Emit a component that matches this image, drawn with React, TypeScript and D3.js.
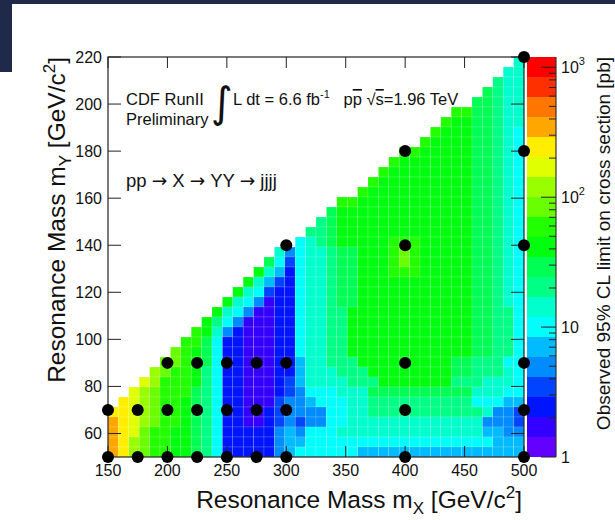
import React from "react";
import * as d3 from "d3";

// ---- axes / binning ----
const MX_RANGE: [number, number] = [150, 500];
const MY_RANGE: [number, number] = [50, 220];
const N_X = 40;
const N_Y = 40;
const Z_RANGE: [number, number] = [1, 1200];
const N_CONTOURS = 20;

const X_TICKS = [150, 200, 250, 300, 350, 400, 450, 500];
const Y_TICKS = [60, 80, 100, 120, 140, 160, 180, 200, 220];
const Z_MAJOR = [1, 10, 100, 1000];
const Z_LABELS: [string, string][] = [["1", ""], ["10", ""], ["10", "2"], ["10", "3"]];

// ---- simulated mass points ----
const POINT_MX = [150, 150, 175, 175, 200, 200, 200, 225, 225, 225, 250, 250, 250, 275, 275, 275,
  300, 300, 300, 300, 400, 400, 400, 400, 400, 500, 500, 500, 500, 500, 500];
const POINT_MY = [50, 70, 50, 70, 50, 70, 90, 50, 70, 90, 50, 70, 90, 50, 70, 90,
  50, 70, 90, 140, 50, 70, 90, 140, 180, 50, 70, 90, 140, 180, 220];

// ---- contour level (0..19, base-36 digit) per cell, rows from top (mY bin 39) to bottom (bin 0)
// each entry: [first filled mX bin, levels]
const LEVEL_ROWS: [number, string][] = [
  [39, "7"],
  [38, "77"],
  [37, "877"],
  [36, "9877"],
  [35, "99877"],
  [33, "bb99877"],
  [32, "baa99877"],
  [31, "baaa99876"],
  [30, "baaaa99876"],
  [28, "bbaaaaa99876"],
  [27, "baaaaaaa99876"],
  [26, "baaaaaaaa99876"],
  [25, "baaaaaaaaa99876"],
  [24, "baaaaaaaaaa99876"],
  [22, "bbaaaaaaaaaaa99876"],
  [21, "9aaaaaaaaaaaaa99876"],
  [20, "89aaaaaaaaaaaaa99876"],
  [19, "889aaaaaaaaaaaaa99876"],
  [18, "6789aaaaabbbaaaaa99876"],
  [16, "74677899aaabcbaaaaa99876"],
  [15, "963677899aaabcbaaaaa99876"],
  [14, "a752677899aaabbbaaaaa99876"],
  [13, "a7532677899aaaaaaaaaaa99876"],
  [12, "a76322677899aaaaaaaaaaa99876"],
  [11, "a764122677899aaaaaaaaaaa99876"],
  [10, "a764112267788aaaaaaaaaaaa99886"],
  [9, "a8641112267788aaaaaaaaaaaa99886"],
  [8, "ba7421112267788aaaaaaaaaaaa99886"],
  [7, "bb96221112267788aaaaaaaaaaaa99886"],
  [6, "cba96221112267788aaaaaaaaaaaa99886"],
  [5, "ccba962211122577888aaaaaaaaa9988866"],
  [4, "dcbba8622111225777888aaaaaaaa9988876"],
  [3, "edbbba86221112357777888aaaaaaa8887776"],
  [2, "edcbbb98622111234666777999999999977766"],
  [1, "fedcbba98622111344566677888888888866655"],
  [0, "ffedcbba98622112344446677888888888887443"],
  [0, "gfedcbba98622112343446677777777777774443"],
  [0, "gfecbbaa98622222454666777777777777775544"],
  [0, "gfdcbbaa98622222455666666666666666666555"],
  [0, "gfdcbbaa98622222456666665555555555555555"],
];

// ROOT "pretty" palette sampled at 20 contours
const PALETTE = [
  "rgb(99,0,255)", "rgb(51,0,255)", "rgb(0,20,255)", "rgb(0,68,255)", "rgb(0,139,255)",
  "rgb(0,187,255)", "rgb(0,255,252)", "rgb(0,255,204)", "rgb(0,255,133)", "rgb(0,255,85)",
  "rgb(0,255,14)", "rgb(34,255,0)", "rgb(105,255,0)", "rgb(153,255,0)", "rgb(224,255,0)",
  "rgb(255,238,0)", "rgb(255,167,0)", "rgb(255,119,0)", "rgb(255,48,0)", "rgb(255,0,0)",
];

const FONT = "'Liberation Sans', Arial, Helvetica, sans-serif";
const ARROW_FONT = "'DejaVu Sans', sans-serif";
const NAVY = "#1f2a4b";

export default function App() {
  const W = 615, H = 520;
  const L = 108, R = 524, T = 57, B = 457;
  const xs = d3.scaleLinear().domain(MX_RANGE).range([L, R]);
  const ys = d3.scaleLinear().domain(MY_RANGE).range([B, T]);
  const zs = d3.scaleLog().domain(Z_RANGE).range([B, T]);
  const color = d3.scaleQuantize<string>().domain([0, N_CONTOURS]).range(PALETTE);
  const dx = (MX_RANGE[1] - MX_RANGE[0]) / N_X;
  const dy = (MY_RANGE[1] - MY_RANGE[0]) / N_Y;

  const cells: JSX.Element[] = [];
  LEVEL_ROWS.forEach(([start, vals], i) => {
    const r = N_Y - 1 - i;
    for (let j = 0; j < vals.length; j++) {
      const k = start + j;
      if (k >= N_X) break;
      const ch = vals[j];
      if (ch === "." || ch === " ") continue;
      const lev = parseInt(ch, 36);
      const x0 = xs(MX_RANGE[0] + k * dx), x1 = xs(MX_RANGE[0] + (k + 1) * dx);
      const y0 = ys(MY_RANGE[0] + (r + 1) * dy), y1 = ys(MY_RANGE[0] + r * dy);
      cells.push(
        <rect key={`c${r}-${k}`} x={x0} y={y0} width={x1 - x0} height={y1 - y0}
          fill={color(lev + 0.5)} stroke="rgba(255,255,255,0.3)" strokeWidth={0.5} />
      );
    }
  });

  const logMax = Math.log10(Z_RANGE[1]);
  const bands = d3.range(N_CONTOURS).map((i) => {
    const z0 = Math.pow(10, (i * logMax) / N_CONTOURS);
    const z1 = Math.pow(10, ((i + 1) * logMax) / N_CONTOURS);
    return { i, y0: zs(z1), y1: zs(z0) };
  });
  const zMinor: number[] = [];
  [1, 10, 100, 1000].forEach((d) => {
    for (let m = 2; m <= 9; m++) if (m * d <= Z_RANGE[1]) zMinor.push(m * d);
  });

  const CBL = 527, CBR = 556;
  const tickColor = "#222";

  return (
    <svg width={W} height={H} style={{ position: "absolute", left: 0, top: 0, background: "#fff" }}
      fontFamily={FONT}>
      <rect x={0} y={0} width={W} height={H} fill="#fff" />
      <rect x={0} y={0} width={W} height={4} fill={NAVY} />
      <rect x={0} y={0} width={12} height={72} fill={NAVY} />

      {/* heat map */}
      <g>{cells}</g>

      {/* frame */}
      <rect x={L} y={T} width={R - L} height={B - T} fill="none" stroke="#222" strokeWidth={1.2} />

      {/* x ticks bottom + top */}
      {X_TICKS.map((v) => (
        <g key={`xt${v}`}>
          <line x1={xs(v)} x2={xs(v)} y1={B} y2={B - 11} stroke={tickColor} strokeWidth={1} />
          <line x1={xs(v)} x2={xs(v)} y1={T} y2={T + 11} stroke={tickColor} strokeWidth={1} />
          <text x={xs(v)} y={476} fontSize={16} textAnchor="middle" fill="#111">{v}</text>
        </g>
      ))}
      {/* y ticks left + right */}
      {Y_TICKS.map((v) => (
        <g key={`yt${v}`}>
          <line x1={L} x2={L + 13} y1={ys(v)} y2={ys(v)} stroke={tickColor} strokeWidth={1} />
          <line x1={R} x2={R - 13} y1={ys(v)} y2={ys(v)} stroke={tickColor} strokeWidth={1} />
          <text x={102} y={ys(v) + 6} fontSize={16} textAnchor="end" fill="#111">{v}</text>
        </g>
      ))}

      {/* colour bar */}
      {bands.map((b) => (
        <rect key={`b${b.i}`} x={CBL} y={b.y0} width={CBR - CBL} height={b.y1 - b.y0} fill={PALETTE[b.i]} />
      ))}
      <line x1={CBR} x2={CBR} y1={T} y2={B} stroke="#333" strokeWidth={1.2} />
      {Z_MAJOR.map((v) => (
        <line key={`zM${v}`} x1={CBR} x2={CBR - 15} y1={zs(v)} y2={zs(v)} stroke={tickColor} strokeWidth={1} />
      ))}
      {zMinor.map((v) => (
        <line key={`zm${v}`} x1={CBR} x2={CBR - 7} y1={zs(v)} y2={zs(v)} stroke={tickColor} strokeWidth={1} />
      ))}
      {Z_MAJOR.map((v, i) => (
        <text key={`zl${v}`} x={561} y={zs(v) + 6} fontSize={16} fill="#111">
          {Z_LABELS[i][0]}
          {Z_LABELS[i][1] && <tspan fontSize={11} dy={-8}>{Z_LABELS[i][1]}</tspan>}
        </text>
      ))}

      {/* mass points */}
      {POINT_MX.map((mx, i) => (
        <circle key={`p${i}`} cx={xs(mx)} cy={ys(POINT_MY[i])} r={6} fill="#000" />
      ))}

      {/* annotations */}
      <text x={126} y={105} fontSize={16.5} fill="#111">CDF RunII</text>
      <text x={126} y={125} fontSize={16.5} fill="#111">Preliminary</text>
      <text x={211} y={117} fontSize={42} fill="#111" fontFamily={ARROW_FONT}>∫</text>
      <text x={233} y={105} fontSize={16.5} fill="#111" xmlSpace="preserve">
        {"L dt = 6.6 fb"}
        <tspan fontSize={11} dy={-7}>-1</tspan>
        <tspan dy={7}>{"   p"}</tspan>
        <tspan textDecoration="overline">p</tspan>
        <tspan>{" √"}</tspan>
        <tspan textDecoration="overline">s</tspan>
        <tspan>=1.96 TeV</tspan>
      </text>
      <text x={126} y={187} fontSize={18.5} fill="#111" xmlSpace="preserve">
        {"pp "}
        <tspan fontFamily={ARROW_FONT}>→</tspan>
        {" X "}
        <tspan fontFamily={ARROW_FONT}>→</tspan>
        {" YY "}
        <tspan fontFamily={ARROW_FONT}>→</tspan>
        {" jjjj"}
      </text>

      {/* axis titles */}
      <text x={522} y={508} fontSize={24.5} textAnchor="end" fill="#111">
        Resonance Mass m<tspan fontSize={17} dy={6}>X</tspan>
        <tspan dy={-6}> [GeV/c</tspan>
        <tspan fontSize={17} dy={-10}>2</tspan>
        <tspan dy={10}>]</tspan>
      </text>
      <text transform="translate(65,57) rotate(-90)" fontSize={24.5} textAnchor="end" fill="#111">
        Resonance Mass m<tspan fontSize={17} dy={6}>Y</tspan>
        <tspan dy={-6}> [GeV/c</tspan>
        <tspan fontSize={17} dy={-10}>2</tspan>
        <tspan dy={10}>]</tspan>
      </text>
      <text transform="translate(610,57) rotate(-90)" fontSize={19} textAnchor="end" fill="#111">
        Observed 95% CL limit on cross section [pb]
      </text>
    </svg>
  );
}
